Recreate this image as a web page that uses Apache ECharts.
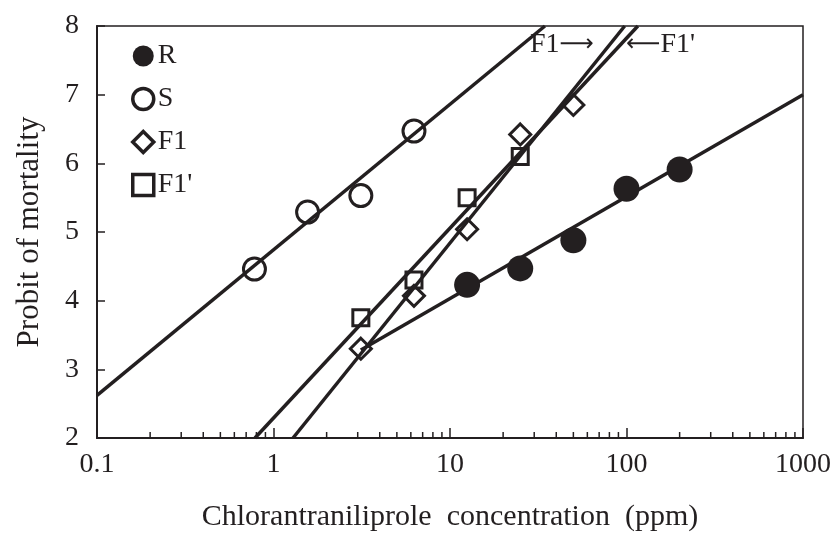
<!DOCTYPE html>
<html>
<head>
<meta charset="utf-8">
<script src="https://cdn.jsdelivr.net/npm/echarts@6.0.0/dist/echarts.min.js"></script>
<style>
  html, body { margin: 0; padding: 0; background: #fff; }
  #chart { width: 839px; height: 540px; }
</style>
</head>
<body>
<div id="chart"></div>
<script>
// observed points (ppm, probit)
const rPoints = [[12.5, 4.23], [25, 4.47], [50, 4.88], [100, 5.63], [200, 5.91]];
const sPoints = [[0.78, 4.46], [1.56, 5.29], [3.125, 5.53], [6.25, 6.47]];
const f1Points = [[3.125, 3.3], [6.25, 4.07], [12.5, 5.04], [25, 6.42], [50, 6.85]];
const f1pPoints = [[3.125, 3.75], [6.25, 4.3], [12.5, 5.5], [25, 6.1]];

// fitted regression lines (endpoints)
const rLine = [[3.125, 3.28], [1000, 7.0]];
const sLine = [[0.1, 2.62], [34.5, 8]];
const f1Line = [[1.29, 2], [97.7, 8]];
const f1pLine = [[0.785, 2], [116, 8]];

// minor ticks on the log axis
const minorTicks = [];
[0.1, 1, 10, 100].forEach(d => {
  for (let k = 2; k <= 9; k++) minorTicks.push([+(d * k).toPrecision(3), 2]);
});

const ink = '#231f20';
const font = '"Liberation Serif", "Times New Roman", serif';
const chart = echarts.init(document.getElementById('chart'));

const lineSeries = (data) => ({
  type: 'line',
  data: data,
  showSymbol: false,
  silent: true,
  z: 2,
  lineStyle: { color: ink, width: 3.5 }
});

const openStyle = { color: 'rgba(255,255,255,0)', borderColor: ink, borderWidth: 3, opacity: 1 };

// annotation text with a long arrow
const arrowRich = {
  t: { fontFamily: font, fontSize: 28, fill: ink },
  a: { fontFamily: 'DejaVu Sans', fontSize: 24, fill: ink }
};

chart.setOption({
  animation: false,
  backgroundColor: '#fff',
  grid: {
    left: 97, right: 36, top: 26, bottom: 102,
    show: true, borderColor: ink, borderWidth: 1.5
  },
  legend: {
    data: [
      { name: 'R' },
      { name: 'S', itemStyle: { borderWidth: 3.5 } },
      { name: 'F1', itemStyle: { borderWidth: 3.5 } },
      { name: "F1'", itemStyle: { borderWidth: 3.5 } }
    ],
    orient: 'vertical',
    left: 126, top: 37,
    itemWidth: 21, itemHeight: 21, itemGap: 15,
    textStyle: { fontFamily: font, fontSize: 28, color: ink, padding: [0, 0, 0, -1] }
  },
  xAxis: {
    type: 'log', logBase: 10, min: 0.1, max: 1000,
    name: 'Chlorantraniliprole  concentration  (ppm)',
    nameLocation: 'middle', nameGap: 64,
    nameTextStyle: { fontFamily: font, fontSize: 30, color: ink },
    axisLine: { lineStyle: { color: ink, width: 2 } },
    axisTick: { inside: true, length: 10, lineStyle: { color: ink, width: 1.5 } },
    axisLabel: {
      fontFamily: font, fontSize: 28, color: ink, margin: 13,
      formatter: v => String(+(+v).toPrecision(6))
    },
    splitLine: { show: false }
  },
  yAxis: {
    type: 'value', min: 2, max: 8, interval: 1,
    name: 'Probit of mortality',
    nameLocation: 'middle', nameGap: 52,
    nameTextStyle: { fontFamily: font, fontSize: 31, color: ink },
    axisLine: { show: true, lineStyle: { color: ink, width: 2 } },
    axisTick: { inside: true, length: 8, lineStyle: { color: ink, width: 1.5 } },
    axisLabel: { fontFamily: font, fontSize: 28, color: ink, margin: 18 },
    splitLine: { show: false }
  },
  graphic: [
    {
      type: 'text', left: 530, top: 31,
      style: { text: '{t|F1}{a|\u27F6}', rich: arrowRich }
    },
    {
      type: 'text', left: 626, top: 31,
      style: { text: "{a|\u27F5}{t|F1'}", rich: arrowRich }
    }
  ],
  series: [
    lineSeries(rLine),
    lineSeries(sLine),
    lineSeries(f1Line),
    lineSeries(f1pLine),
    {
      type: 'custom',
      silent: true,
      data: minorTicks,
      renderItem: (params, api) => {
        const p = api.coord([api.value(0), api.value(1)]);
        return {
          type: 'line',
          shape: { x1: p[0], y1: p[1], x2: p[0], y2: p[1] - 6 },
          style: { stroke: ink, lineWidth: 1.5 }
        };
      }
    },
    {
      name: 'R', type: 'scatter', data: rPoints, z: 5,
      symbol: 'circle', symbolSize: 26,
      itemStyle: { color: ink, borderWidth: 0, opacity: 1 }
    },
    {
      name: 'S', type: 'scatter', data: sPoints, z: 5,
      symbol: 'circle', symbolSize: 22,
      itemStyle: openStyle
    },
    {
      name: 'F1', type: 'scatter', data: f1Points, z: 5,
      symbol: 'diamond', symbolSize: 21,
      itemStyle: openStyle
    },
    {
      name: "F1'", type: 'scatter', data: f1pPoints, z: 5,
      symbol: 'rect', symbolSize: 16,
      itemStyle: openStyle
    }
  ]
});
</script>
</body>
</html>
